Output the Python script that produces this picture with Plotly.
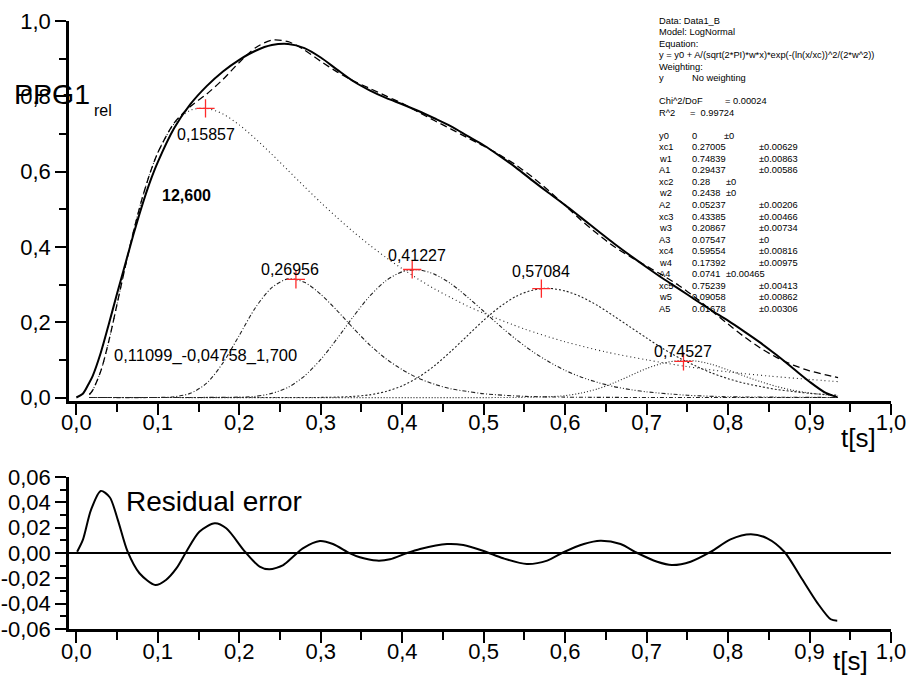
import plotly.graph_objects as go

# ---------------- data ----------------
data_x = [0.0, 0.008, 0.016, 0.02, 0.03, 0.04, 0.05, 0.06, 0.07, 0.08, 0.09, 0.10,
          0.12, 0.14, 0.16, 0.18, 0.20, 0.22, 0.24, 0.26, 0.28, 0.30, 0.32, 0.34, 0.36, 0.38,
          0.40, 0.42, 0.44, 0.46, 0.48, 0.50, 0.52, 0.54, 0.56, 0.58, 0.60, 0.62, 0.64, 0.66,
          0.68, 0.70, 0.72, 0.74, 0.76, 0.78, 0.80, 0.82, 0.84, 0.86, 0.88, 0.90, 0.92, 0.934]
data_y = [0.0, 0.010, 0.040, 0.057, 0.119, 0.196, 0.276, 0.354, 0.432, 0.505, 0.570, 0.625,
          0.715, 0.779, 0.827, 0.866, 0.897, 0.921, 0.936, 0.939, 0.928, 0.903, 0.871, 0.840,
          0.816, 0.796, 0.779, 0.761, 0.741, 0.720, 0.695, 0.670, 0.641, 0.610, 0.576, 0.543,
          0.511, 0.477, 0.443, 0.409, 0.377, 0.346, 0.316, 0.288, 0.259, 0.231, 0.204, 0.175,
          0.145, 0.112, 0.077, 0.042, 0.012, 0.001]

fit_x = [0.016, 0.02, 0.03, 0.04, 0.05, 0.06, 0.07, 0.08, 0.09, 0.10,
         0.12, 0.14, 0.16, 0.18, 0.20, 0.22, 0.24, 0.26, 0.28, 0.30, 0.32, 0.34, 0.36, 0.38,
         0.40, 0.42, 0.44, 0.46, 0.48, 0.50, 0.52, 0.54, 0.56, 0.58, 0.60, 0.62, 0.64, 0.66,
         0.68, 0.70, 0.72, 0.74, 0.76, 0.78, 0.80, 0.82, 0.84, 0.86, 0.88, 0.90, 0.92, 0.935]
fit_y = [0.008, 0.019, 0.070, 0.151, 0.248, 0.347, 0.440, 0.523, 0.593, 0.650,
         0.729, 0.773, 0.806, 0.845, 0.890, 0.929, 0.949, 0.945, 0.923, 0.893, 0.865, 0.841,
         0.821, 0.801, 0.781, 0.758, 0.735, 0.713, 0.690, 0.668, 0.644, 0.617, 0.585, 0.549,
         0.510, 0.470, 0.434, 0.401, 0.374, 0.349, 0.324, 0.297, 0.265, 0.230, 0.195, 0.161,
         0.131, 0.106, 0.086, 0.071, 0.060, 0.053]

comp1_x = [0.016, 0.02, 0.03, 0.04, 0.05, 0.06, 0.07, 0.08, 0.09, 0.10,
           0.12, 0.14, 0.16, 0.18, 0.20, 0.22, 0.24, 0.26, 0.28, 0.30, 0.32, 0.34, 0.36, 0.38,
           0.40, 0.42, 0.44, 0.46, 0.48, 0.50, 0.55, 0.60, 0.65, 0.70, 0.75, 0.80, 0.85, 0.90, 0.935]
comp1_y = [0.008, 0.019, 0.070, 0.151, 0.248, 0.347, 0.440, 0.523, 0.593, 0.650,
           0.727, 0.763, 0.768, 0.753, 0.724, 0.687, 0.646, 0.603, 0.560, 0.518, 0.478, 0.440,
           0.405, 0.372, 0.342, 0.314, 0.288, 0.265, 0.243, 0.224, 0.182, 0.148, 0.121, 0.100,
           0.082, 0.068, 0.057, 0.048, 0.042]

comp2_x = [0.016, 0.10, 0.12, 0.14, 0.16, 0.18, 0.20, 0.22, 0.24, 0.26, 0.28, 0.30, 0.32,
           0.34, 0.36, 0.38, 0.40, 0.42, 0.44, 0.46, 0.48, 0.50, 0.55, 0.60, 0.65, 0.935]
comp2_y = [0.0, 0.0001, 0.002, 0.011, 0.038, 0.092, 0.165, 0.239, 0.292, 0.315, 0.306, 0.274,
           0.231, 0.184, 0.140, 0.103, 0.074, 0.051, 0.035, 0.023, 0.016, 0.010, 0.003, 0.001,
           0.0003, 0.0]

comp3_x = [0.016, 0.20, 0.22, 0.24, 0.26, 0.28, 0.30, 0.32, 0.34, 0.36, 0.38, 0.40, 0.42,
           0.44, 0.46, 0.48, 0.50, 0.52, 0.54, 0.56, 0.58, 0.60, 0.62, 0.64, 0.66, 0.68, 0.70,
           0.75, 0.80, 0.85, 0.935]
comp3_y = [0.0, 0.001, 0.003, 0.011, 0.027, 0.057, 0.101, 0.156, 0.215, 0.269, 0.310, 0.334,
           0.339, 0.327, 0.302, 0.267, 0.229, 0.190, 0.154, 0.122, 0.095, 0.072, 0.054, 0.040,
           0.029, 0.021, 0.015, 0.006, 0.002, 0.001, 0.0]

comp4_x = [0.016, 0.30, 0.32, 0.34, 0.36, 0.38, 0.40, 0.42, 0.44, 0.46, 0.48, 0.50, 0.52,
           0.54, 0.56, 0.58, 0.60, 0.62, 0.64, 0.66, 0.68, 0.70, 0.72, 0.74, 0.76, 0.78, 0.80,
           0.82, 0.84, 0.86, 0.88, 0.90, 0.92, 0.935]
comp4_y = [0.0, 0.0002, 0.001, 0.003, 0.007, 0.016, 0.031, 0.054, 0.085, 0.123, 0.164, 0.205,
           0.241, 0.269, 0.285, 0.290, 0.283, 0.267, 0.244, 0.216, 0.187, 0.158, 0.130, 0.105,
           0.084, 0.065, 0.050, 0.038, 0.029, 0.021, 0.016, 0.011, 0.008, 0.006]

comp5_x = [0.016, 0.54, 0.56, 0.58, 0.60, 0.62, 0.64, 0.66, 0.68, 0.70, 0.72, 0.74, 0.76,
           0.78, 0.80, 0.82, 0.84, 0.86, 0.88, 0.90, 0.92, 0.935]
comp5_y = [0.0, 0.0001, 0.001, 0.002, 0.005, 0.012, 0.023, 0.039, 0.058, 0.077, 0.091, 0.098,
           0.097, 0.088, 0.073, 0.057, 0.042, 0.029, 0.019, 0.012, 0.007, 0.004]

peak_x = [0.15857, 0.26956, 0.41227, 0.57084, 0.74527]
peak_y = [0.768, 0.314, 0.340, 0.289, 0.096]

res_x = [0.001, 0.008, 0.018, 0.030, 0.041, 0.051, 0.063, 0.0775, 0.097, 0.110,
         0.123, 0.135, 0.151, 0.170, 0.184, 0.207, 0.225, 0.237, 0.254, 0.266,
         0.278, 0.299, 0.315, 0.336, 0.348, 0.369, 0.385, 0.406, 0.422, 0.455,
         0.475, 0.500, 0.524, 0.553, 0.578, 0.598, 0.623, 0.643, 0.668, 0.688,
         0.713, 0.731, 0.754, 0.779, 0.803, 0.828, 0.848, 0.869, 0.889, 0.910,
         0.926, 0.934]
res_y = [0.001, 0.0103, 0.034, 0.049, 0.044, 0.026, 0.001, -0.016, -0.0253, -0.0213,
         -0.012, 0.001, 0.0168, 0.0234, 0.0195, 0.001, -0.0108, -0.0129, -0.0095, -0.0029,
         0.0037, 0.0095, 0.0071, -0.0003, -0.0034, -0.006, -0.005, 0.0, 0.0032, 0.0071,
         0.0063, 0.0016, -0.0042, -0.0087, -0.006, 0.0006, 0.0071, 0.0097, 0.0071, 0.0002,
         -0.0069, -0.0095, -0.0069, 0.001, 0.0108, 0.0148, 0.0116, 0.001, -0.0187, -0.0397,
         -0.0523, -0.0534]

x_tickvals = [0.0, 0.1, 0.2, 0.3, 0.4, 0.5, 0.6, 0.7, 0.8, 0.9, 1.0]
x_ticktext = ["0,0", "0,1", "0,2", "0,3", "0,4", "0,5", "0,6", "0,7", "0,8", "0,9", "1,0"]
x_minor = [0.05, 0.15, 0.25, 0.35, 0.45, 0.55, 0.65, 0.75, 0.85, 0.95]
y1_tickvals = [0.0, 0.2, 0.4, 0.6, 0.8, 1.0]
y1_ticktext = ["0,0", "0,2", "0,4", "0,6", "0,8", "1,0"]
y1_minor = [0.1, 0.3, 0.5, 0.7, 0.9]
y2_tickvals = [-0.06, -0.04, -0.02, 0.0, 0.02, 0.04, 0.06]
y2_ticktext = ["-0,06", "-0,04", "-0,02", "0,00", "0,02", "0,04", "0,06"]
y2_minor = [-0.05, -0.03, -0.01, 0.01, 0.03, 0.05]

info_labels = ["Data: Data1_B", "Model: LogNormal", "Equation:",
               "y = y0 + A/(sqrt(2*PI)*w*x)*exp(-(ln(x/xc))^2/(2*w^2))", "Weighting:", "y", "",
               "Chi^2/DoF", "R^2", "", "y0", "xc1", "w1", "A1", "xc2", "w2", "A2", "xc3", "w3",
               "A3", "xc4", "w4", "A4", "xc5", "w5", "A5"]
info_values = ["", "", "", "", "", "No weighting", "", "", "", "", "0", "0.27005", "0.74839",
               "0.29437", "0.28", "0.2438", "0.05237", "0.43385", "0.20867", "0.07547", "0.59554",
               "0.17392", "0.0741", "0.75239", "0.09058", "0.01678"]
info_errors = ["", "", "", "", "", "", "", "= 0.00024", "=  0.99724", "", "±0", "±0.00629",
               "±0.00863", "±0.00586", "±0", "±0", "±0.00206", "±0.00466", "±0.00734", "±0",
               "±0.00816", "±0.00975", "±0.00465", "±0.00413", "±0.00862", "±0.00306"]

# ---------------- layout helpers ----------------
W, H = 909, 675
ML, MR, MT, MB = 69, 18, 21, 46
PW = W - ML - MR
PH = H - MT - MB


def pxx(px):
    return (px - ML) / PW


def pxy(py):
    return (H - MB - py) / PH


FONT = "Arial, 'Liberation Sans', sans-serif"
LC = "#222222"

fig = go.Figure()

comp_styles = [
    (comp1_x, comp1_y, "1px,3px"),
    (comp2_x, comp2_y, "4px,2px,1px,2px"),
    (comp3_x, comp3_y, "4px,2px,1px,2px,1px,2px"),
    (comp4_x, comp4_y, "2px,2px"),
    (comp5_x, comp5_y, "1px,2px"),
]
for cx, cy, dash in comp_styles:
    fig.add_trace(go.Scatter(x=cx, y=cy, mode="lines", xaxis="x", yaxis="y",
                             line=dict(color=LC, width=1.1, dash=dash, shape="spline", smoothing=0.8),
                             hoverinfo="skip"))

fig.add_trace(go.Scatter(x=fit_x, y=fit_y, mode="lines", xaxis="x", yaxis="y",
                         line=dict(color="black", width=1.3, dash="7px,4px", shape="spline", smoothing=0.8)))
fig.add_trace(go.Scatter(x=data_x, y=data_y, mode="lines", xaxis="x", yaxis="y",
                         line=dict(color="black", width=2, shape="spline", smoothing=0.8)))
fig.add_trace(go.Scatter(x=peak_x, y=peak_y, mode="markers", xaxis="x", yaxis="y",
                         marker=dict(symbol="cross-thin", size=13,
                                     line=dict(color="#ff2a2a", width=1.3))))
fig.add_trace(go.Scatter(x=res_x, y=res_y, mode="lines", xaxis="x2", yaxis="y2",
                         line=dict(color="black", width=2, shape="spline", smoothing=0.8)))

axis_common = dict(showline=True, linewidth=2.5, linecolor="black", ticks="outside",
                   ticklen=11, tickwidth=2, tickcolor="black", showgrid=False, zeroline=False,
                   automargin=False,
                   tickfont=dict(family=FONT, size=22, color="black"), tickmode="array")

fig.update_layout(
    width=W, height=H, margin=dict(l=ML, r=MR, t=MT, b=MB, autoexpand=False),
    paper_bgcolor="white", plot_bgcolor="white", showlegend=False,
    xaxis=dict(domain=[0, 1], anchor="y", range=[-0.009, 1.0], tickvals=x_tickvals,
               ticktext=x_ticktext, ticklabelstandoff=-11,
               minor=dict(tickmode="array", tickvals=x_minor, ticks="outside", ticklen=8,
                          tickwidth=2, tickcolor="black"), **axis_common),
    yaxis=dict(domain=[(629 - 401) / PH, 1], anchor="x", range=[-0.0093, 1.0],
               tickvals=y1_tickvals, ticktext=y1_ticktext,
               minor=dict(tickmode="array", tickvals=y1_minor, ticks="outside", ticklen=7,
                          tickwidth=2, tickcolor="black"), **axis_common),
    xaxis2=dict(domain=[0, 1], anchor="y2", range=[-0.009, 1.0], tickvals=x_tickvals,
                ticktext=x_ticktext, ticklabelstandoff=-10,
                minor=dict(tickmode="array", tickvals=x_minor, ticks="outside", ticklen=8,
                           tickwidth=2, tickcolor="black"), **axis_common),
    yaxis2=dict(domain=[0, (629 - 477) / PH], anchor="x2", range=[-0.06, 0.06],
                tickvals=y2_tickvals, ticktext=y2_ticktext,
                minor=dict(tickmode="array", tickvals=y2_minor, ticks="outside", ticklen=6,
                           tickwidth=2, tickcolor="black"), **axis_common),
)

# zero line of the residual panel
fig.add_shape(type="line", xref="x2 domain", yref="y2", x0=0, x1=1, y0=0, y1=0,
              line=dict(color="black", width=2))

ann = []
# peak labels
label_shift = [(0, -26), (-6, 10), (5, 14), (0, 17), (0, 10)]
for (px_, py_), (dx, dy) in zip(zip(peak_x, peak_y), label_shift):
    ann.append(dict(x=px_, y=py_, xref="x", yref="y", text=f"{px_:.5f}".replace(".", ","),
                    showarrow=False, xshift=dx, yshift=dy, xanchor="center", yanchor="middle",
                    font=dict(family=FONT, size=16, color="black")))
ann.append(dict(x=0.1025, y=0.536, xref="x", yref="y", text="<b>12,600</b>", showarrow=False,
                xanchor="left", yanchor="middle", font=dict(family=FONT, size=16, color="black")))
ann.append(dict(x=0.0434, y=0.111, xref="x", yref="y", text="0,11099_-0,04758_1,700",
                showarrow=False, xanchor="left", yanchor="middle",
                font=dict(family=FONT, size=16.5, color="black")))
ann.append(dict(x=0.058, y=0.041, xref="x2", yref="y2", text="Residual error", showarrow=False,
                xanchor="left", yanchor="middle", font=dict(family=FONT, size=28, color="black")))
# axis titles
ann.append(dict(x=pxx(12), y=pxy(94), xref="paper", yref="paper", text="PPG1", showarrow=False,
                xanchor="left", yanchor="middle", font=dict(family=FONT, size=28.5, color="black")))
ann.append(dict(x=pxx(92), y=pxy(110), xref="paper", yref="paper", text="rel", showarrow=False,
                xanchor="left", yanchor="middle", font=dict(family=FONT, size=16, color="black")))
ann.append(dict(x=pxx(858), y=pxy(438), xref="paper", yref="paper", text="t[s]", showarrow=False,
                xanchor="center", yanchor="middle", font=dict(family=FONT, size=26, color="black")))
ann.append(dict(x=pxx(850), y=pxy(661), xref="paper", yref="paper", text="t[s]", showarrow=False,
                xanchor="center", yanchor="middle", font=dict(family=FONT, size=26, color="black")))

# fit report text block
err_x = {7: 723, 8: 688, 10: 722, 14: 724, 15: 724, 22: 724}
for r, (lab, val, err) in enumerate(zip(info_labels, info_values, info_errors)):
    yy = pxy(20.7 + 11.52 * r)
    for txt, xpix in ((lab, 657), (val, 690), (err, err_x.get(r, 757))):
        if txt:
            ann.append(dict(x=pxx(xpix), y=yy, xref="paper", yref="paper", text=txt,
                            showarrow=False, xanchor="left", yanchor="middle",
                            font=dict(family=FONT, size=9.3, color="black")))

fig.update_layout(annotations=ann)
fig.write_html("out.html")
